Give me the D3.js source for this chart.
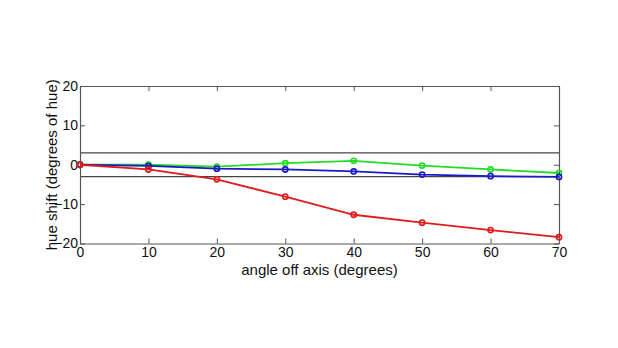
<!DOCTYPE html>
<html><head><meta charset="utf-8">
<script src="https://cdn.jsdelivr.net/npm/d3@7"></script>
<style>
html,body{margin:0;padding:0;background:#fff;}
svg{display:block;font-family:"Liberation Sans",Arial,sans-serif;}
</style></head>
<body>
<svg id="chart" width="618" height="348"></svg>
<script>
const angles = [0, 10, 20, 30, 40, 50, 60, 70];
const redShift = [0, -1.2, -3.7, -8.1, -12.7, -14.7, -16.6, -18.4];
const greenShift = [0, 0, -0.5, 0.4, 1.0, -0.2, -1.2, -2.1];
const blueShift = [0, -0.3, -1.0, -1.2, -1.7, -2.5, -2.9, -3.1];
const xTicks = [0, 10, 20, 30, 40, 50, 60, 70];
const yTicks = [-20, -10, 0, 10, 20];
const thresholds = [3, -3];

const svg = d3.select("#chart");
const L = 80, R = 559, T = 86, B = 243.5;
const x = d3.scaleLinear().domain([0, 70]).range([L, R]);
const y = d3.scaleLinear().domain([-20, 20]).range([B, T]);
const axisColor = "#555";

// threshold lines
svg.selectAll("line.th").data(thresholds).enter().append("line")
  .attr("x1", L).attr("x2", R)
  .attr("y1", d => y(d)).attr("y2", d => y(d))
  .attr("stroke", "#444").attr("stroke-width", 1.2);

// axes
const fmt = d3.format("d");
const gB = svg.append("g").attr("transform", `translate(0,${B})`)
  .call(d3.axisBottom(x).tickValues(xTicks).tickFormat(fmt).tickSizeInner(-5).tickSizeOuter(0).tickPadding(4));
const gT = svg.append("g").attr("transform", `translate(0,${T})`)
  .call(d3.axisTop(x).tickValues(xTicks).tickFormat("").tickSizeInner(-5).tickSizeOuter(0));
const gL = svg.append("g").attr("transform", `translate(${L},0)`)
  .call(d3.axisLeft(y).tickValues(yTicks).tickFormat(fmt).tickSizeInner(-5).tickSizeOuter(0).tickPadding(2));
const gR = svg.append("g").attr("transform", `translate(${R},0)`)
  .call(d3.axisRight(y).tickValues(yTicks).tickFormat("").tickSizeInner(-5).tickSizeOuter(0));
[gB, gT, gL, gR].forEach(g => {
  g.select(".domain").attr("stroke", axisColor).attr("stroke-width", 1.2);
  g.selectAll(".tick line").attr("stroke", axisColor);
  g.selectAll(".tick text").attr("fill", "#111").style("font-size", "14px").style("font-family", "Liberation Sans, Arial, sans-serif");
});

// series
const series = [
  {vals: greenShift, color: "#22dd22"},
  {vals: blueShift, color: "#1a1acc"},
  {vals: redShift, color: "#e01b1b"}
];
const line = d3.line().x((d, i) => x(angles[i])).y(d => y(d));
series.forEach(s => {
  svg.append("path").datum(s.vals).attr("d", line)
    .attr("fill", "none").attr("stroke", s.color).attr("stroke-width", 1.8);
  svg.selectAll(null).data(s.vals).enter().append("circle")
    .attr("cx", (d, i) => x(angles[i])).attr("cy", d => y(d)).attr("r", 2.6)
    .attr("fill", "none").attr("stroke", s.color).attr("stroke-width", 1.6);
});

// labels
svg.append("text").attr("x", (L + R) / 2).attr("y", 275).attr("text-anchor", "middle")
  .style("font-size", "15px").attr("fill", "#111").text("angle off axis (degrees)");
svg.append("text").attr("transform", `translate(57,${(T + B) / 2}) rotate(-90)`)
  .attr("text-anchor", "middle").style("font-size", "15px").attr("fill", "#111")
  .text("hue shift (degrees of hue)");
</script>
</body></html>
